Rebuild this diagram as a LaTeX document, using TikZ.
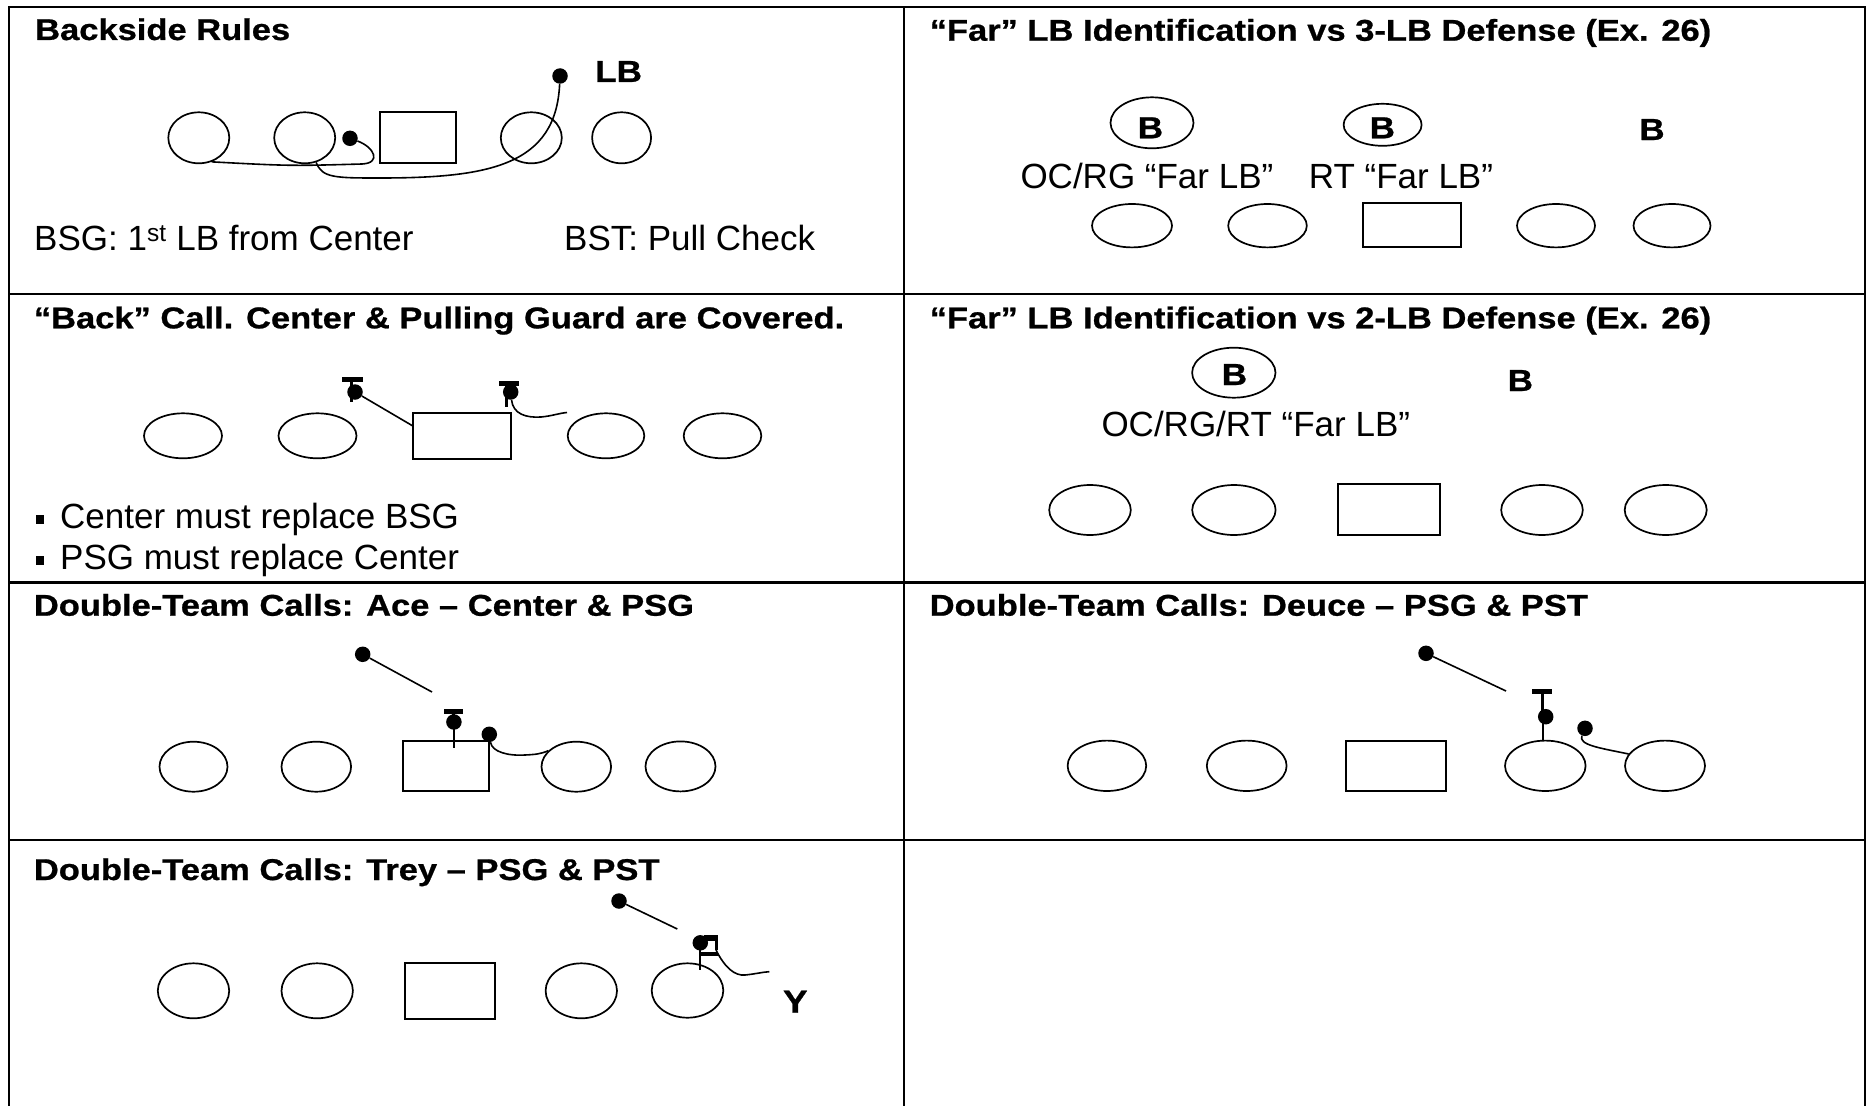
\documentclass[tikz,border=0pt]{standalone}
\usepackage{fontspec}
\setmainfont{Liberation Sans}
\newfontfamily\ttlfam{Liberation Sans}[FakeStretch=1.15,FakeBold=0.8]
\usetikzlibrary{shapes.geometric}
\begin{document}
\begin{tikzpicture}[x=1pt,y=-1pt,
  grid/.style={line width=2.4pt},
  pl/.style={draw, ellipse, line width=1.7pt, inner sep=0pt},
  ctr/.style={draw, rectangle, line width=2pt, inner sep=0pt},
  dot/.style={fill, circle, inner sep=0pt, minimum size=15.5pt},
  ttl/.style={anchor=base west, inner sep=0pt, font=\ttlfam\bfseries\fontsize{30}{34}\selectfont},
  txt/.style={anchor=base west, inner sep=0pt, font=\fontsize{35}{40}\selectfont},
  lbl/.style={anchor=base, inner sep=0pt, font=\ttlfam\bfseries\fontsize{30.5}{34}\selectfont},
  ylbl/.style={anchor=base, inner sep=0pt, font=\ttlfam\bfseries\fontsize{32}{36}\selectfont},
  rte/.style={line width=1.6pt},
  bar/.style={line width=5pt},
  stem/.style={line width=3pt},
  thin/.style={line width=1.8pt},
]
\useasboundingbox (0,0) rectangle (1867,1105);
% ---------------- grid
\draw[grid] (9,1112) -- (9,7) -- (1865,7) -- (1865,1112);
\draw[grid] (904,7) -- (904,1112);
\draw[grid] (9,294) -- (1865,294);
\draw[grid] (9,582.5) -- (1865,582.5);
\draw[grid] (9,840) -- (1865,840);

% ---------------- Panel 1: Backside Rules
\node[ttl] (t1) at (35,40) {Backside Rules};
\node[pl, minimum width=61, minimum height=51] (a1) at (198.8,137.8) {};
\node[pl, minimum width=61, minimum height=51] (a2) at (304.7,137.8) {};
\node[ctr, minimum width=76, minimum height=50.5] (ac) at (418,137.5) {};
\node[pl, minimum width=61, minimum height=51] (a4) at (531.3,137.8) {};
\node[pl, minimum width=59, minimum height=51] (a5) at (621.6,137.8) {};
\node[dot] (ad1) at (350,138.3) {};
\node[dot] (ad2) at (560,76) {};
\node[lbl, anchor=base west] (alb) at (595,82) {LB};
\draw[rte] (a1.-62) .. controls (290,166) .. (362,164) .. controls (382,163) and (374,147) .. (ad1);
\draw[rte] (a2.-65) .. controls (322,178) and (335,178) .. (380,178) .. controls (490,178) and (556,165) .. (ad2);
\node[txt] (bsg) at (34,250.7) {BSG: 1\textsuperscript{st} LB from Center};
\node[txt] (bst) at (564,250.7) {BST: Pull Check};

% ---------------- Panel 2: Far LB vs 3-LB
\node[ttl] (t2) at (929.5,40.7) {“Far” LB Identification vs 3-LB Defense (Ex. 26)};
\node[pl, minimum width=83, minimum height=51] (bc1) at (1152,122.8) {};
\node[pl, minimum width=78, minimum height=42] (bc2) at (1382.6,124.8) {};
\node[lbl] (bt1) at (1150.4,138.3) {B};
\node[lbl] (bt2) at (1382.3,138.3) {B};
\node[lbl] (bt3) at (1652,140) {B};
\node[txt] (bl1) at (1020.3,188.3) {OC/RG “Far LB”};
\node[txt] (bl2) at (1308.7,188.3) {RT “Far LB”};
\node[pl, minimum width=80, minimum height=43.4] (b1) at (1132,225.7) {};
\node[pl, minimum width=78.6, minimum height=43.4] (b2) at (1267.5,225.7) {};
\node[ctr, minimum width=97.5, minimum height=44] (bc) at (1412,225.3) {};
\node[pl, minimum width=78, minimum height=43.4] (b4) at (1556,225.7) {};
\node[pl, minimum width=77, minimum height=43.4] (b5) at (1672,225.7) {};

% ---------------- Panel 3: Back call
\node[ttl] (t3) at (33.7,328.3) {“Back” Call. Center \& Pulling Guard are Covered.};
\node[pl, minimum width=78, minimum height=45] (c1) at (183,435.8) {};
\node[pl, minimum width=78, minimum height=45] (c2) at (317.5,435.8) {};
\node[ctr, minimum width=97.5, minimum height=45.7] (cc) at (462,436.2) {};
\node[pl, minimum width=76.6, minimum height=45] (c4) at (606,435.8) {};
\node[pl, minimum width=77.6, minimum height=45] (c5) at (722.5,435.8) {};
\node[dot] (cdl) at (355,392) {};
\draw[bar] (342,379) -- (363,379);
\draw[stem] (351,379) -- (351,402);
\draw[rte] (cdl) -- (cc.168);
\node[dot] (cdr) at (510.7,392) {};
\draw[bar] (499,383) -- (519,383);
\draw[stem] (506.7,383) -- (506.7,407);
\coordinate (cend) at (567,412.5);
\draw[rte] (cdr) .. controls (513,414) and (526,418) .. (541,417) .. controls (552,416) and (560,413) .. (cend);
\fill (35.5,515) rectangle (44,523.5);
\node[txt] (cb1) at (60,528) {Center must replace BSG};
\fill (35.5,556) rectangle (44,564.5);
\node[txt] (cb2) at (60,569) {PSG must replace Center};

% ---------------- Panel 4: Far LB vs 2-LB
\node[ttl] (t4) at (929.5,328.3) {“Far” LB Identification vs 2-LB Defense (Ex. 26)};
\node[pl, minimum width=83.4, minimum height=50] (dcB) at (1233.8,372.7) {};
\node[lbl] (dt1) at (1234.4,385) {B};
\node[lbl] (dt2) at (1520.3,391) {B};
\node[txt] (dl1) at (1101.3,436) {OC/RG/RT “Far LB”};
\node[pl, minimum width=81.6, minimum height=50] (d1) at (1090,510) {};
\node[pl, minimum width=83.4, minimum height=50] (d2) at (1233.9,510) {};
\node[ctr, minimum width=102.5, minimum height=50.7] (dc) at (1388.75,509.65) {};
\node[pl, minimum width=81.6, minimum height=50] (d4) at (1542,510) {};
\node[pl, minimum width=82, minimum height=50] (d5) at (1665.7,510) {};

% ---------------- Panel 5: Ace
\node[ttl] (t5) at (33.7,615.7) {Double-Team Calls: Ace – Center \& PSG};
\node[pl, minimum width=68, minimum height=50] (e1) at (193.5,766.7) {};
\node[pl, minimum width=69.6, minimum height=50] (e2) at (316.3,766.7) {};
\node[ctr, minimum width=85.9, minimum height=50.3] (ec) at (446.35,765.85) {};
\node[pl, minimum width=69.6, minimum height=50] (e4) at (576.3,766.7) {};
\node[pl, minimum width=70, minimum height=50] (e5) at (680.5,766.4) {};
\node[dot] (edf) at (362.7,654.3) {};
\coordinate (eend) at (432,692);
\draw[rte] (edf) -- (eend);
\node[dot] (edc) at (453.9,722) {};
\draw[bar] (444,711.7) -- (463,711.7);
\draw[stem] (453.9,711.7) -- (edc.center);
\draw[thin] (edc.center) -- (453.9,747.7);
\node[dot] (edr) at (489.3,734.3) {};
\draw[rte] (edr) .. controls (492,752) and (508,756) .. (525,755) .. controls (535,754.5) and (541,754) .. (e4.150);

% ---------------- Panel 6: Deuce
\node[ttl] (t6) at (929.5,615.7) {Double-Team Calls: Deuce – PSG \& PST};
\node[pl, minimum width=78.6, minimum height=50.4] (f1) at (1106.9,765.8) {};
\node[pl, minimum width=79.8, minimum height=50.4] (f2) at (1246.7,765.8) {};
\node[ctr, minimum width=100.5, minimum height=50.3] (fc) at (1395.75,765.85) {};
\node[pl, minimum width=80.6, minimum height=50.4] (f4) at (1545.3,765.8) {};
\node[pl, minimum width=80, minimum height=50.4] (f5) at (1665,765.8) {};
\node[dot] (fdf) at (1426,653.3) {};
\coordinate (fend) at (1506,691);
\draw[rte] (fdf) -- (fend);
\node[dot] (fdc) at (1545.7,716.7) {};
\draw[bar] (1532.3,691) -- (1552.3,691);
\draw[stem] (1542.7,691) -- (1542.7,716.7);
\draw[thin] (1542.7,716.7) -- (1542.7,741);
\node[dot] (fdr) at (1585,728.3) {};
\draw[rte] (fdr) .. controls (1578,745) and (1600,748) .. (f5.162);

% ---------------- Panel 7: Trey
\node[ttl] (t7) at (33.7,880) {Double-Team Calls: Trey – PSG \& PST};
\node[pl, minimum width=71.4, minimum height=55] (g1) at (193.5,990.8) {};
\node[pl, minimum width=71.4, minimum height=55] (g2) at (317.2,990.8) {};
\node[ctr, minimum width=90, minimum height=56] (gc) at (449.5,990.7) {};
\node[pl, minimum width=71.4, minimum height=55] (g4) at (581.3,990.8) {};
\node[pl, minimum width=71.6, minimum height=54.4] (g5) at (687.5,990.5) {};
\node[dot] (gdf) at (619,901) {};
\coordinate (gend) at (677.3,929);
\draw[rte] (gdf) -- (gend);
\node[dot] (gdc) at (700.3,942.8) {};
\fill (704,934.5) rectangle (718,940.5);
\draw[line width=3pt] (716.5,938) -- (716.5,950);
\draw[line width=4pt] (699,954) -- (718,954);
\draw[thin] (700,943) -- (700,970);
\coordinate (gcend) at (769.3,971.7);
\draw[rte] (716,950) .. controls (725,968) and (735,976) .. (745,975) .. controls (755,974) and (763,972) .. (gcend);
\node[ylbl] (gy) at (795.3,1012.7) {Y};
\end{tikzpicture}
\end{document}
